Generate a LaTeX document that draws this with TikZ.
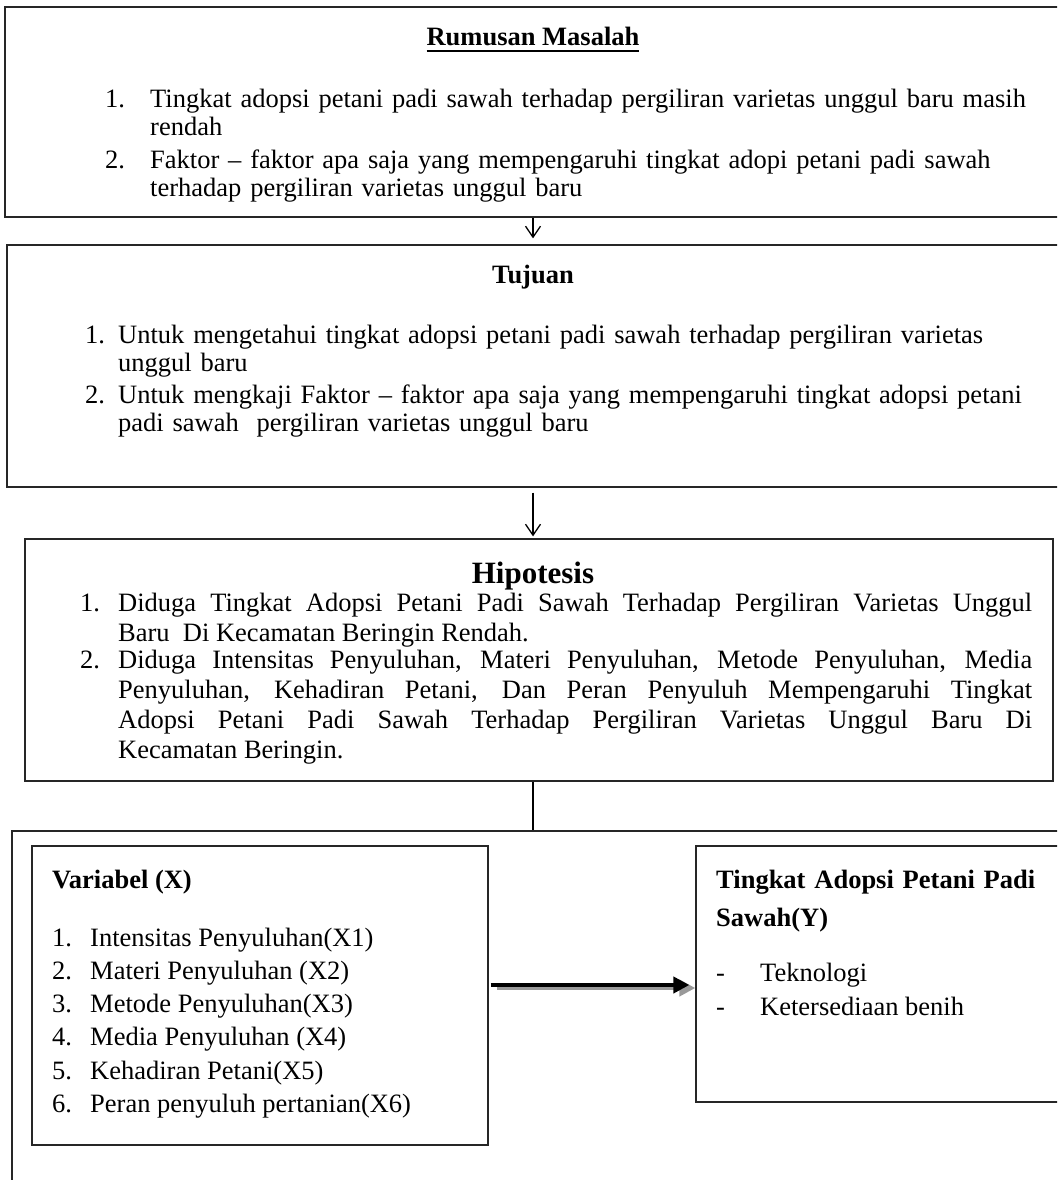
\documentclass[tikz,border=0pt]{standalone}
\usepackage{fontspec}
\setmainfont{Liberation Serif}
\usetikzlibrary{arrows.meta,positioning}
\newcommand\txtsize{\fontsize{26.5pt}{28pt}\selectfont}
\newcommand\thickul[1]{\leavevmode\vtop{\hbox{#1}\kern3.5pt\hrule height 2pt}}

\begin{document}
\begin{tikzpicture}[x=1pt, y=-1pt,
    box/.style={draw=black!85, line width=1.3pt, rectangle, inner sep=0pt},
    txt/.style={anchor=base west, inner sep=0pt, font=\txtsize},
    para/.style={txt, text width=#1, align=left},
    jpara/.style={txt, text width=#1, align=justify, font=\fontsize{26.5pt}{30pt}\selectfont},
    head/.style={anchor=base, inner sep=0pt, font=\txtsize\bfseries},
    flow/.style={line width=1.3pt, -{Straight Barb[length=11pt,width=15pt,line width=1.3pt]}},
    bigarrow/.style={line width=4pt, -{Triangle[length=16pt,width=16pt]}}
  ]
  \clip (0,0) rectangle (1057,1180);

  % frames
  \node[box, minimum width=1095, minimum height=210] (rumusan) at (552.5,112) {};
  \node[box, minimum width=1093, minimum height=242] (tujuan) at (553.5,366) {};
  \node[box, minimum width=1028, minimum height=242] (hipotesis) at (539,660) {};
  \node[box, minimum width=1088, minimum height=389] (lingkup) at (556,1025.5) {};
  \node[box, minimum width=456, minimum height=299] (varx) at (260,995.5) {};
  \node[box, minimum width=404, minimum height=256] (vary) at (898,974) {};

  % Rumusan Masalah
  \node[head] (rumusanT) at (533,46) {\thickul{Rumusan Masalah}};
  \node[txt] (r1n) at (105,108) {1.};
  \node[para=880] (r1) at (150,108) {Tingkat adopsi petani padi sawah terhadap pergiliran varietas unggul baru masih\\ rendah};
  \node[txt] (r2n) at (105,168) {2.};
  \node[para=880] (r2) at (150,168) {Faktor -- faktor apa saja yang mempengaruhi tingkat adopi petani padi sawah\\ terhadap pergiliran varietas unggul baru};

  % Tujuan
  \node[head] (tujuanT) at (533,283) {Tujuan};
  \node[txt] (t1n) at (85,343) {1.};
  \node[para=920] (t1) at (118,343) {Untuk mengetahui tingkat adopsi petani padi sawah terhadap pergiliran varietas\\ unggul baru};
  \node[txt] (t2n) at (85,403) {2.};
  \node[para=920] (t2) at (118,403) {Untuk mengkaji Faktor -- faktor apa saja yang mempengaruhi tingkat adopsi petani\\ padi sawah~ pergiliran varietas unggul baru};

  % Hipotesis
  \node[head, font=\fontsize{31pt}{34pt}\selectfont\bfseries] (hipotesisT) at (533,583) {Hipotesis};
  \node[txt] (h1n) at (80,611) {1.};
  \node[jpara=914] (h1) at (118,611) {Diduga Tingkat Adopsi Petani Padi Sawah Terhadap Pergiliran Varietas Unggul\linebreak Baru~ Di Kecamatan Beringin Rendah.};
  \node[txt] (h2n) at (80,668) {2.};
  \node[jpara=914] (h2) at (118,668) {Diduga Intensitas Penyuluhan, Materi Penyuluhan, Metode Penyuluhan, Media\linebreak Penyuluhan, Kehadiran Petani, Dan Peran Penyuluh Mempengaruhi Tingkat\linebreak Adopsi Petani Padi Sawah Terhadap Pergiliran Varietas Unggul Baru Di\linebreak Kecamatan Beringin.};

  % Variabel (X)
  \node[txt, font=\txtsize\bfseries] (varxT) at (52,888) {Variabel (X)};
  \foreach \i/\lbl in {1/Intensitas Penyuluhan(X1), 2/Materi Penyuluhan (X2),
      3/Metode Penyuluhan(X3), 4/Media Penyuluhan (X4),
      5/Kehadiran Petani(X5), 6/Peran penyuluh pertanian(X6)} {
    \node[txt] (vxn\i) at (52,{946+33.3*(\i-1)}) {\i.};
    \node[txt] (vx\i) at (90,{946+33.3*(\i-1)}) {\lbl};
  }

  % Tingkat Adopsi (Y)
  \node[para=340, font=\fontsize{26.5pt}{38pt}\selectfont\bfseries] (varyT) at (716,888) {Tingkat Adopsi Petani Padi\\ Sawah(Y)};
  \node[txt] (vyn1) at (716,981) {-};
  \node[txt] (vy1) at (760,981) {Teknologi};
  \node[txt] (vyn2) at (716,1015) {-};
  \node[txt] (vy2) at (760,1015) {Ketersediaan benih};

  % connectors
  \coordinate (axis) at (533,0);
  \coordinate (ah) at (0,985);
  \draw[flow, shorten >=6pt] (rumusan.south -| axis) -- (tujuan.north -| axis);
  \draw[flow, shorten <=5pt, shorten >=2pt] (tujuan.south -| axis) -- (hipotesis.north -| axis);
  \draw[line width=1.5pt] (hipotesis.south -| axis) -- (lingkup.north -| axis);
  \draw[bigarrow, black!40, shorten <=5pt, shorten >=3pt] ([shift={(3,3)}]varx.east |- ah) -- ([shift={(3,3)}]vary.west |- ah);
  \draw[bigarrow, shorten <=2pt, shorten >=6pt] (varx.east |- ah) -- (vary.west |- ah);
\end{tikzpicture}
\end{document}
